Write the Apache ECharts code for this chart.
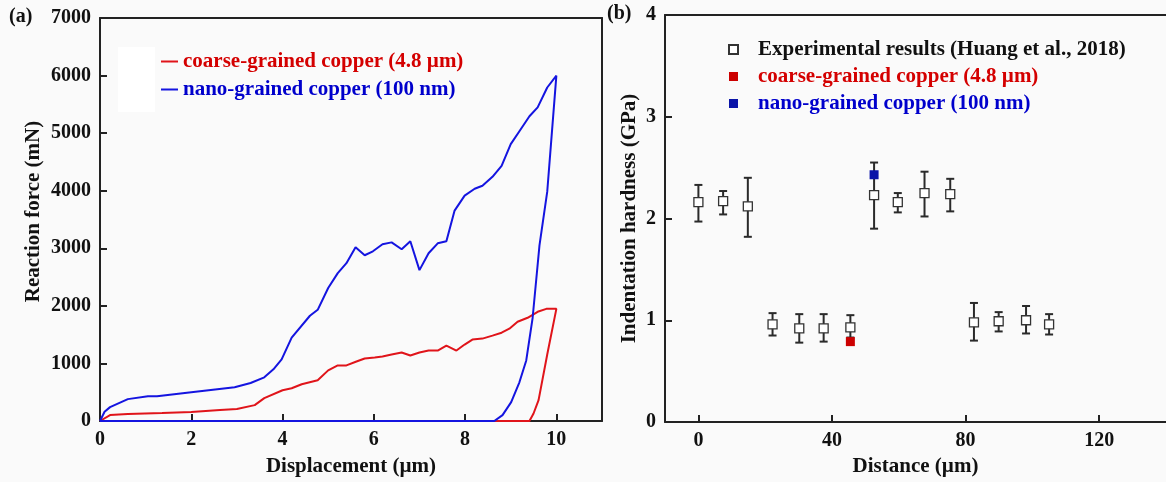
<!DOCTYPE html>
<html>
<head>
<meta charset="utf-8">
<script src="https://cdn.jsdelivr.net/npm/echarts@6/dist/echarts.min.js"></script>
<style>
  html, body { margin: 0; padding: 0; background: #fafafa; }
  #chart { width: 1166px; height: 482px; }
</style>
</head>
<body>
<div id="chart"></div>
<script>
// (a) load-displacement curves, loading then unloading back to zero
var nanoDisp  = [0, 0.1, 0.22, 0.61, 1.05, 1.25, 2.0, 2.95, 3.3, 3.6, 3.8, 3.98, 4.2, 4.6, 4.77, 5.0, 5.21, 5.4, 5.6, 5.8, 5.98, 6.19, 6.39, 6.61, 6.8, 7.0, 7.2, 7.4, 7.59, 7.77, 7.99, 8.21, 8.38, 8.6, 8.8, 9.0, 9.19, 9.41, 9.59, 9.8, 10.0,
                 9.8, 9.63, 9.48, 9.34, 9.19, 9.01, 8.82, 8.64, 0];
var nanoForce = [0, 160, 241, 380, 431, 431, 500, 586, 660, 759, 897, 1069, 1448, 1828, 1931, 2310, 2569, 2741, 3017, 2879, 2948, 3069, 3103, 2983, 3121, 2621, 2914, 3086, 3121, 3655, 3914, 4034, 4086, 4241, 4431, 4810, 5034, 5293, 5448, 5793, 6000,
                 3983, 3052, 1793, 1052, 672, 328, 103, 0, 0];
var coarseDisp  = [0, 0.22, 0.61, 1.36, 2.0, 2.63, 3.0, 3.39, 3.6, 4.0, 4.2, 4.42, 4.77, 5.0, 5.21, 5.4, 5.62, 5.8, 6.02, 6.19, 6.39, 6.61, 6.8, 7.0, 7.2, 7.4, 7.59, 7.81, 7.99, 8.16, 8.38, 8.6, 8.8, 8.97, 9.15, 9.37, 9.59, 9.78, 10.0,
                   9.8, 9.61, 9.5, 9.41, 0];
var coarseForce = [0, 103, 120, 138, 155, 190, 207, 276, 397, 534, 569, 638, 707, 879, 966, 966, 1034, 1086, 1103, 1121, 1155, 1190, 1138, 1190, 1224, 1224, 1310, 1224, 1328, 1414, 1431, 1483, 1534, 1603, 1724, 1793, 1897, 1948, 1948,
                   1155, 362, 130, 0, 0];

// (b) indentation hardness vs distance
var expDist = [0, 7.4, 14.8, 22.2, 30.2, 37.5, 45.5, 52.6, 59.7, 67.7, 75.4, 82.5, 89.9, 98.1, 105];
var expHard = [2.16, 2.17, 2.12, 0.96, 0.92, 0.92, 0.93, 2.23, 2.16, 2.25, 2.24, 0.98, 0.99, 1.0, 0.96];
var expLow  = [1.97, 2.04, 1.82, 0.85, 0.78, 0.79, 0.83, 1.90, 2.06, 2.02, 2.07, 0.80, 0.89, 0.87, 0.86];
var expHigh = [2.33, 2.27, 2.40, 1.07, 1.06, 1.06, 1.05, 2.55, 2.25, 2.46, 2.39, 1.17, 1.08, 1.14, 1.06];
var coarsePt = [45.5, 0.79];
var nanoPt = [52.6, 2.43];

var xTicksB = [0, 40, 80, 120];

var nameCoarse = 'coarse-grained copper (4.8 µm)';
var nameNano = 'nano-grained copper (100 nm)';
var nameExp = 'Experimental results (Huang et al., 2018)';

var FONT = 'Liberation Serif';
var RED = '#e0141a';
var BLUE = '#1414e0';
var DARK = '#222';

function pairs(xs, ys) {
  var out = [];
  for (var i = 0; i < xs.length; i++) out.push([xs[i], ys[i]]);
  return out;
}

var errData = [];
for (var i = 0; i < expDist.length; i++) errData.push([expDist[i], expLow[i], expHigh[i]]);

var lbl = { fontFamily: FONT, fontWeight: 'bold', fontSize: 21, color: '#111' };

function baseAxis(extra) {
  var a = {
    type: 'value',
    axisLine: { show: true, onZero: false, lineStyle: { color: DARK, width: 2 } },
    axisTick: { show: true, inside: true, length: 7, lineStyle: { color: DARK, width: 2 } },
    axisLabel: { fontFamily: FONT, fontWeight: 'bold', fontSize: 20, color: '#111', margin: 9,
                 showMaxLabel: false, formatter: function (v) { return String(v); } },
    splitLine: { show: false },
    nameLocation: 'middle',
    nameTextStyle: lbl
  };
  for (var k in extra) a[k] = extra[k];
  return a;
}

function frameAxis(extra) {
  var a = {
    type: 'value',
    axisLine: { show: true, onZero: false, lineStyle: { color: DARK, width: 2 } },
    axisTick: { show: false },
    axisLabel: { show: false },
    splitLine: { show: false }
  };
  for (var k in extra) a[k] = extra[k];
  return a;
}

var chart = echarts.init(document.getElementById('chart'));

var option = {
  backgroundColor: '#fafafa',
  animation: false,
  grid: [
    { left: 100, top: 18, width: 502, height: 406 },
    { left: 665, top: 15, width: 507, height: 408 }
  ],
  xAxis: [
    baseAxis({ gridIndex: 0, min: 0, max: 11, interval: 2, name: 'Displacement (µm)', nameGap: 35 }),
    baseAxis({ gridIndex: 1, min: -10, max: 140, name: 'Distance (µm)', nameGap: 34,
      axisTick: { show: true, inside: true, length: 7, customValues: xTicksB, lineStyle: { color: DARK, width: 2 } },
      axisLabel: { fontFamily: FONT, fontWeight: 'bold', fontSize: 20, color: '#111', margin: 9, customValues: xTicksB } }),
    frameAxis({ gridIndex: 0, position: 'top', min: 0, max: 11 }),
    frameAxis({ gridIndex: 1, position: 'top', min: -10, max: 140 })
  ],
  yAxis: [
    baseAxis({ gridIndex: 0, min: 0, max: 7000, interval: 1000, name: 'Reaction force (mN)', nameGap: 56,
      nameTextStyle: { fontFamily: FONT, fontWeight: 'bold', fontSize: 21, color: '#111', padding: [0, 0, 0, 16] },
      axisLabel: { fontFamily: FONT, fontWeight: 'bold', fontSize: 20, color: '#111', margin: 9,
                   formatter: function (v) { return String(v); } } }),
    baseAxis({ gridIndex: 1, min: 0, max: 4, interval: 1, name: 'Indentation hardness (GPa)', nameGap: 25,
      axisLabel: { fontFamily: FONT, fontWeight: 'bold', fontSize: 20, color: '#111', margin: 9 } }),
    frameAxis({ gridIndex: 0, position: 'right', min: 0, max: 7000 })
  ],
  legend: [
    {
      orient: 'vertical', left: 156, top: 46, itemGap: 7,
      icon: 'rect', itemWidth: 17, itemHeight: 2,
      selectedMode: false,
      textStyle: { fontFamily: FONT, fontWeight: 'bold', fontSize: 21 },
      data: [
        { name: nameCoarse, textStyle: { color: '#d40000' } },
        { name: nameNano, textStyle: { color: '#0000cc' } }
      ]
    },
    {
      orient: 'vertical', left: 723, top: 34, itemGap: 6,
      icon: 'rect', itemWidth: 9, itemHeight: 9,
      selectedMode: false,
      textStyle: { fontFamily: FONT, fontWeight: 'bold', fontSize: 21, padding: [0, 0, 0, 15] },
      data: [
        { name: nameExp, textStyle: { color: '#111' } },
        { name: nameCoarse + ' ', textStyle: { color: '#d40000' } },
        { name: nameNano + ' ', textStyle: { color: '#0000cc' } }
      ],
      formatter: function (n) { return n.trim(); }
    }
  ],
  graphic: [
    { type: 'rect', shape: { x: 118, y: 47, width: 37, height: 65 }, style: { fill: '#ffffff' }, z: 1 },
    { type: 'text', left: 9, top: 7, style: { text: '(a)', font: 'bold 20px "Liberation Serif"', fill: '#111' } },
    { type: 'text', left: 607, top: 4, style: { text: '(b)', font: 'bold 20px "Liberation Serif"', fill: '#111' } }
  ],
  series: [
    {
      name: nameCoarse, type: 'line', xAxisIndex: 0, yAxisIndex: 0,
      data: pairs(coarseDisp, coarseForce), showSymbol: false,
      lineStyle: { color: RED, width: 2 }, itemStyle: { color: RED }, z: 3
    },
    {
      name: nameNano, type: 'line', xAxisIndex: 0, yAxisIndex: 0,
      data: pairs(nanoDisp, nanoForce), showSymbol: false,
      lineStyle: { color: BLUE, width: 2 }, itemStyle: { color: BLUE }, z: 4
    },
    {
      type: 'custom', xAxisIndex: 1, yAxisIndex: 1, data: errData, z: 3,
      renderItem: function (params, api) {
        var lo = api.coord([api.value(0), api.value(1)]);
        var hi = api.coord([api.value(0), api.value(2)]);
        var w = 4;
        var st = { stroke: '#2a2a2a', lineWidth: 2 };
        return {
          type: 'group',
          children: [
            { type: 'line', shape: { x1: lo[0], y1: lo[1], x2: hi[0], y2: hi[1] }, style: st },
            { type: 'line', shape: { x1: lo[0] - w, y1: lo[1], x2: lo[0] + w, y2: lo[1] }, style: st },
            { type: 'line', shape: { x1: hi[0] - w, y1: hi[1], x2: hi[0] + w, y2: hi[1] }, style: st }
          ]
        };
      }
    },
    {
      name: nameExp, type: 'scatter', xAxisIndex: 1, yAxisIndex: 1,
      data: pairs(expDist, expHard), symbol: 'rect', symbolSize: 9,
      itemStyle: { color: '#ffffff', borderColor: '#333', borderWidth: 1.3, opacity: 1 }, z: 4
    },
    {
      name: nameCoarse + ' ', type: 'scatter', xAxisIndex: 1, yAxisIndex: 1,
      data: [coarsePt], symbol: 'rect', symbolSize: 9,
      itemStyle: { color: '#cc0000', opacity: 1 }, z: 5
    },
    {
      name: nameNano + ' ', type: 'scatter', xAxisIndex: 1, yAxisIndex: 1,
      data: [nanoPt], symbol: 'rect', symbolSize: 9,
      itemStyle: { color: '#0a14a8', opacity: 1 }, z: 5
    }
  ]
};

chart.setOption(option);
</script>
</body>
</html>
